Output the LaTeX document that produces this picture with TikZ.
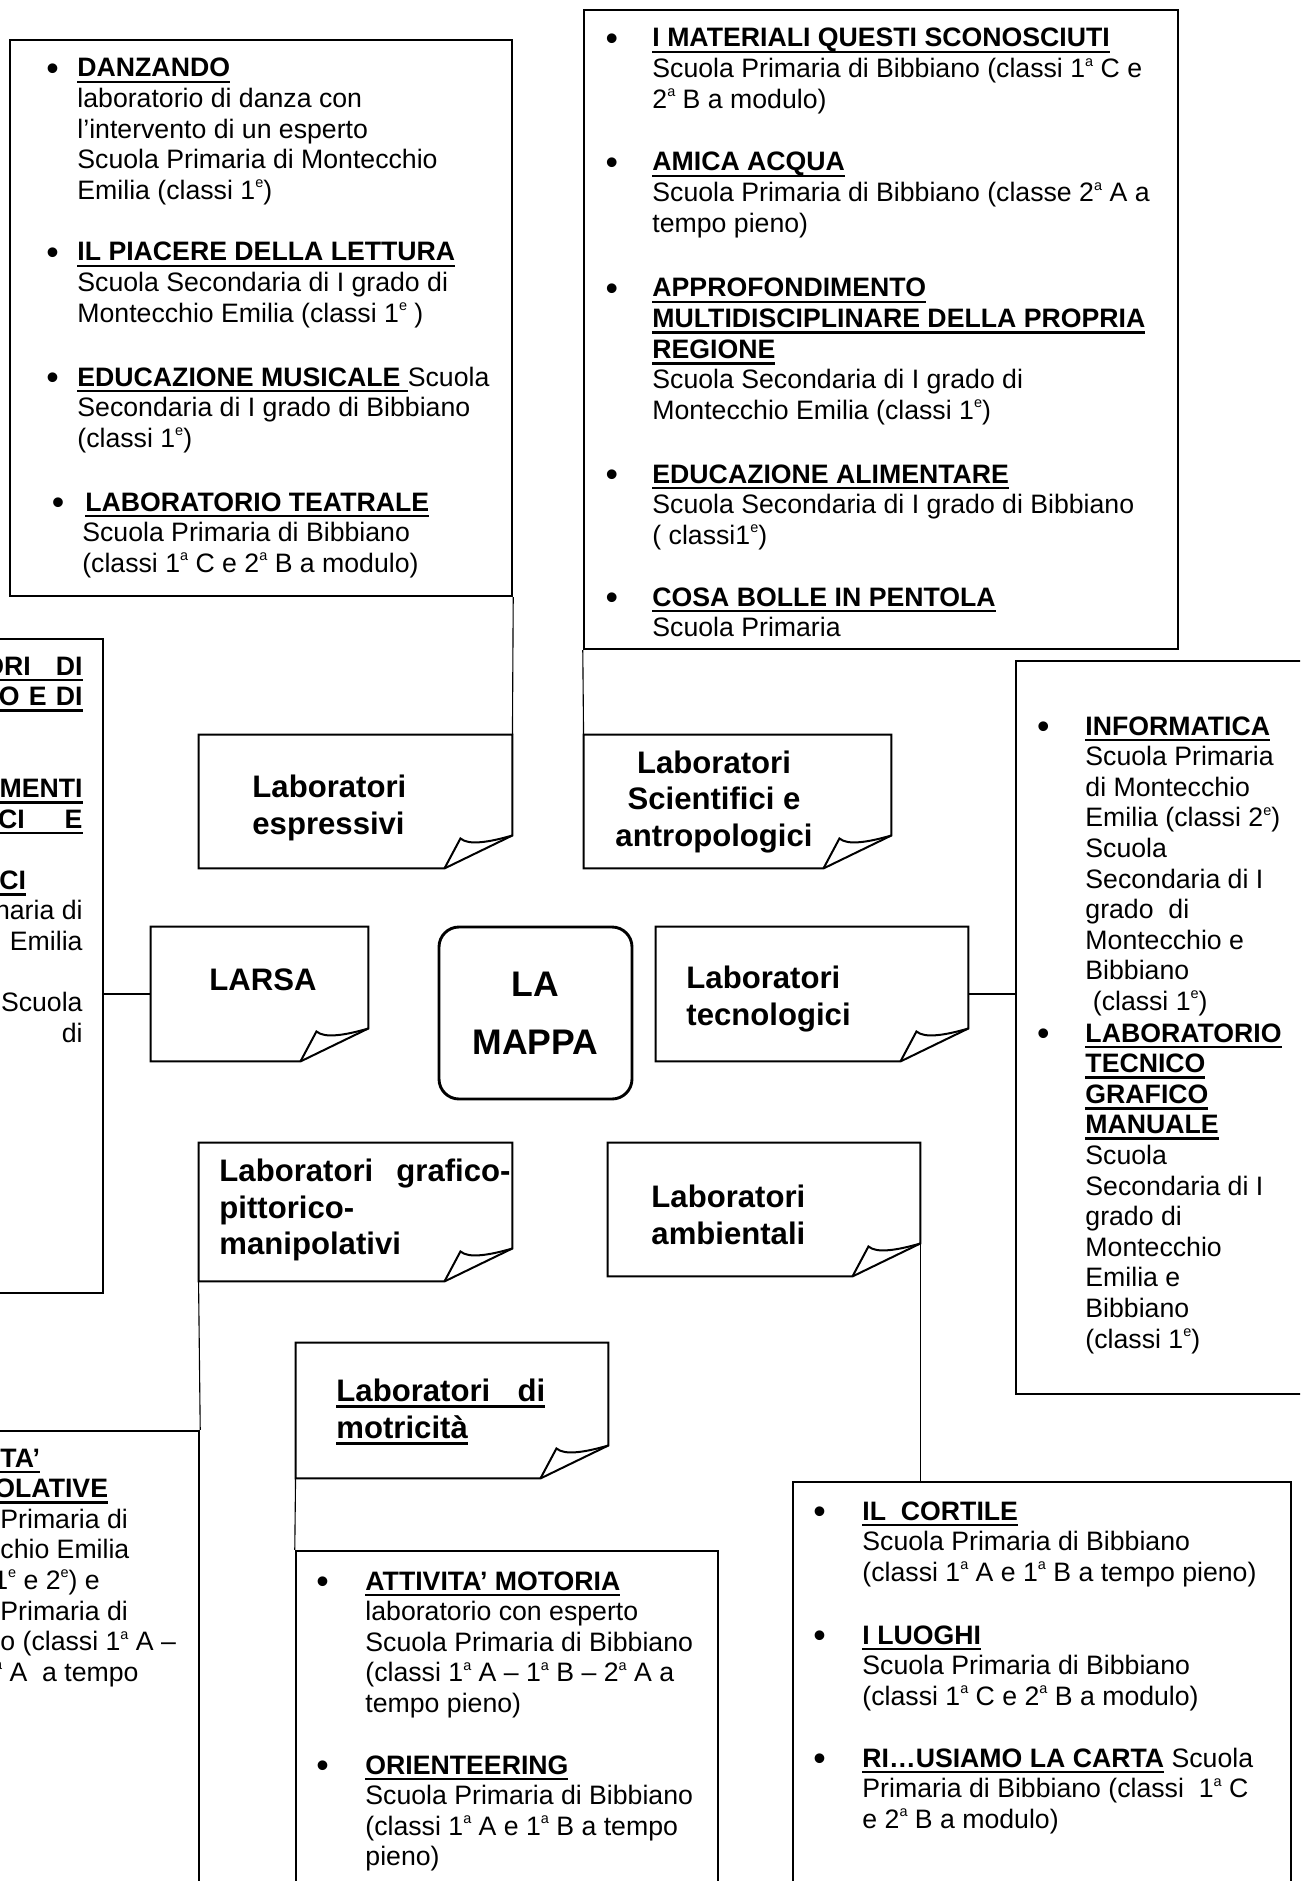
\documentclass[tikz,border=0pt]{standalone}
\usepackage{fontspec}
\setmainfont{Liberation Sans}
\usetikzlibrary{fit}

\newsavebox\SCATOLA
\newcommand\tit[1]{\textbf{\sbox\SCATOLA{#1}\rlap{\rule[-2.9pt]{\wd\SCATOLA}{1.3pt}}\usebox\SCATOLA}}
\newcommand\righe[2][l]{\begin{tabular}[t]{@{}#1@{}}#2\end{tabular}}
\newcommand\pallino[1]{\llap{\raisebox{-1.4pt}{\fontsize{16}{16}\selectfont\textbullet}\hspace{#1}}}
\newcommand\apice[1]{\raisebox{5.2pt}{\fontsize{6.5}{6.5}\selectfont #1}}
\newcommand\ap{\apice{a}}
\newcommand\ep{\apice{e}}

\tikzset{
  riquadro/.style={draw, line width=1.1pt, inner sep=0pt},
  foglio/.style={line width=0.9pt, line join=miter},
  filo/.style={line width=0.5pt},
  voce/.style={anchor=base west, inner sep=0pt, font=\fontsize{12}{13.77}\selectfont},
  etichetta/.style={inner sep=0pt, font=\fontsize{14}{16.5}\selectfont\bfseries}
}

\begin{document}
\begin{tikzpicture}[x=0.45pt, y=-0.45pt]

  \newcommand\PX{68};
  \newcommand\PY{33};
  \newcommand\piega[1]{
    \draw[foglio] (#1.north west) -- (#1.north east) -- ([shift={(0,-\PY)}]#1.south east)
    -- ([shift={(-\PX,0)}]#1.south east) -- (#1.south west) -- cycle;
    \draw[foglio] ([shift={(-\PX,0)}]#1.south east) -- ([shift={(-\PX+16,-30)}]#1.south east)
    .. controls ([shift={(-\PX+24,-23)}]#1.south east) and ([shift={(-24,-26)}]#1.south east)
    .. ([shift={(0,-\PY)}]#1.south east);
  };

  \useasboundingbox (0,0) rectangle (1300,1881);
  \clip (0,0) rectangle (1300,1881);

  % riquadri degli elenchi
  \node[riquadro, fit={(10,40) (512,596)}] (boxEspr) {};
  \node[riquadro, fit={(584,10) (1178,649)}] (boxScien) {};
  \node[riquadro, fit={(-10,639) (103,1293)}] (boxLarsa) {};
  \node[riquadro, fit={(1016,661) (1310,1394)}] (boxTecn) {};
  \node[riquadro, fit={(-10,1431) (199,1900)}] (boxGraf) {};
  \node[riquadro, fit={(296,1551) (718,1900)}] (boxMotr) {};
  \node[riquadro, fit={(793,1482) (1291,1900)}] (boxAmb) {};

  % foglietti
  \node[fit={(199,735) (512,868)}, inner sep=0pt] (espr) {};
  \node[fit={(584,735) (891,868)}, inner sep=0pt] (scien) {};
  \node[fit={(151,927) (368,1061)}, inner sep=0pt] (larsa) {};
  \node[fit={(656,927) (968,1061)}, inner sep=0pt] (tecn) {};
  \node[fit={(199,1143) (512,1281)}, inner sep=0pt] (graf) {};
  \node[fit={(608,1143) (920,1276)}, inner sep=0pt] (amb) {};
  \node[fit={(296,1343) (608,1478)}, inner sep=0pt] (motr) {};
  \piega{espr}
  \piega{scien}
  \piega{larsa}
  \piega{tecn}
  \piega{graf}
  \piega{amb}
  \piega{motr}

  \node[draw, rounded corners=9pt, line width=1.3pt, inner sep=0pt,
    fit={(439,927) (632,1099)}] (mappa) {};

  \node[etichetta, align=left, anchor=west] (tEspr) at (252,808) {Laboratori\\espressivi};
  \node[etichetta, align=center] (tScien) at (714,802) {Laboratori\\Scientifici e\\antropologici};
  \node[etichetta, anchor=west] (tLarsa) at (209,980) {LARSA};
  \node[etichetta, align=center, font=\fontsize{16}{26}\selectfont\bfseries]
    (tMappa) at (mappa.center) {LA\\MAPPA};
  \node[etichetta, align=left, anchor=west] (tTecn) at (686,999) {Laboratori\\tecnologici};
  \node[etichetta, align=left, anchor=west] (tGraf) at (219,1210)
    {\makebox[131pt][s]{Laboratori grafico-}\\pittorico-\\manipolativi};
  \node[etichetta, align=left, anchor=west] (tAmb) at (651,1215) {Laboratori\\ambientali};
  \node[etichetta, align=left, anchor=west] (tMotr) at (336,1412)
    {\tit{\makebox[94pt][s]{Laboratori di}}\\\tit{motricità}};

  % collegamenti
  \draw[filo] (boxEspr.south east) -- (espr.north east);
  \draw[filo] (boxScien.south west) -- (scien.north west);
  \draw[filo] (larsa.west) -- (larsa.west -| boxLarsa.east);
  \draw[filo] (tecn.east) -- (tecn.east -| boxTecn.west);
  \draw[filo] ([shift={(0,-\PY)}]amb.south east) -- (amb.east |- boxAmb.north);
  \draw[filo] (graf.south west) -- (boxGraf.north east);
  \draw[filo] (motr.south west) -- (boxMotr.north west);

  % espressivi
  \node[voce] (vDanz) at (77,77) {\righe{\pallino{8.4pt}\tit{DANZANDO}\\
    laboratorio di danza con\\ l’intervento di un esperto\\
    Scuola Primaria di Montecchio\\ Emilia (classi 1\ep)}};
  \node[voce] (vLett) at (77,261) {\righe{\pallino{8.4pt}\tit{IL PIACERE DELLA LETTURA}\\
    Scuola Secondaria di I grado di\\ Montecchio Emilia (classi 1\ep{} )}};
  \node[voce] (vMus) at (77,386) {\righe{\pallino{8.4pt}\tit{EDUCAZIONE MUSICALE\ }Scuola\\
    Secondaria di I grado di Bibbiano\\ (classi 1\ep)}};
  \node[voce] (vTeat) at (85,511) {\righe{\pallino{9.5pt}\tit{LABORATORIO TEATRALE}\\
    \hspace*{-1.4pt}Scuola Primaria di Bibbiano\\
    \hspace*{-1.4pt}(classi 1\ap{} C e 2\ap{} B a modulo)}};

  % scientifici e antropologici
  \node[voce] (vMat) at (652,47) {\righe{\pallino{15.5pt}\tit{I MATERIALI QUESTI SCONOSCIUTI}\\
    Scuola Primaria di Bibbiano (classi 1\ap{} C e\\ 2\ap{} B a modulo)}};
  \node[voce] (vAcq) at (652,171) {\righe{\pallino{15.5pt}\tit{AMICA ACQUA}\\
    Scuola Primaria di Bibbiano (classe 2\ap{} A a\\ tempo pieno)}};
  \node[voce] (vReg) at (652,297) {\righe{\pallino{15.5pt}\tit{APPROFONDIMENTO}\\
    \tit{MULTIDISCIPLINARE DELLA PROPRIA}\\ \tit{REGIONE}\\
    Scuola Secondaria di I grado di\\ Montecchio Emilia (classi 1\ep)}};
  \node[voce] (vAlim) at (652,483) {\righe{\pallino{15.5pt}\tit{EDUCAZIONE ALIMENTARE}\\
    Scuola Secondaria di I grado di Bibbiano\\ ( classi1\ep)}};
  \node[voce] (vBolle) at (652,606) {\righe{\pallino{15.5pt}\tit{COSA BOLLE IN PENTOLA}\\
    Scuola Primaria}};

  % LARSA
  \node[voce, anchor=base east] (fLarsa) at (83,675) {\righe[r]{
    \tit{\makebox[44.6pt][s]{ORI DI}}\\ \tit{\makebox[37.7pt][s]{O E DI}}\\ \\ \\
    \tit{MENTI}\\ \tit{\makebox[38pt][s]{CI E}}\\ \\
    \makebox[37.4pt][l]{\tit{CI}}\\ naria di\\ Emilia\\ \\ Scuola\\ di}};

  % tecnologici
  \node[voce] (vInfo) at (1085,735) {\righe{\pallino{16.1pt}\tit{INFORMATICA}\\
    Scuola Primaria\\ di Montecchio\\ Emilia (classi 2\ep)\\ Scuola\\
    Secondaria di I\\ grado\ \ di\\ Montecchio e\\ Bibbiano\\ \ (classi 1\ep)}};
  \node[voce] (vTecn) at (1085,1042) {\righe{\pallino{16.1pt}\tit{LABORATORIO}\\
    \tit{TECNICO}\\ \tit{GRAFICO}\\ \tit{MANUALE}\\ Scuola\\ Secondaria di I\\
    grado di\\ Montecchio\\ Emilia e\\ Bibbiano\\ (classi 1\ep)}};

  % grafico-pittorico-manipolativi
  \node[voce] (fGraf) at (0,1467) {\righe{
    \tit{TA’}\\ \hspace*{-2.7pt}\tit{OLATIVE}\\ Primaria di\\ chio Emilia\\
    \hspace*{-3.2pt}1\ep{} e 2\ep) e\\ Primaria di\\ o (classi 1\ap{} A –\\
    \hspace*{-9.5pt}2\ap{} A\ \ a tempo}};

  % motricita'
  \node[voce] (vMoto) at (365,1590) {\righe{\pallino{16.5pt}\tit{ATTIVITA’ MOTORIA}\\
    laboratorio con esperto\\ Scuola Primaria di Bibbiano\\
    (classi 1\ap{} A – 1\ap{} B – 2\ap{} A a\\ tempo pieno)}};
  \node[voce] (vOrie) at (365,1774) {\righe{\pallino{16.5pt}\tit{ORIENTEERING}\\
    Scuola Primaria di Bibbiano\\ (classi 1\ap{} A e 1\ap{} B a tempo\\ pieno)}};

  % ambientali
  \node[voce] (vCort) at (862,1520) {\righe{\pallino{16.5pt}\tit{IL\ \ CORTILE}\\
    Scuola Primaria di Bibbiano\\ (classi 1\ap{} A e 1\ap{} B a tempo pieno)}};
  \node[voce] (vLuog) at (862,1644) {\righe{\pallino{16.5pt}\tit{I LUOGHI}\\
    Scuola Primaria di Bibbiano\\ (classi 1\ap{} C e 2\ap{} B a modulo)}};
  \node[voce] (vCarta) at (862,1767) {\righe{\pallino{16.5pt}\tit{RI…USIAMO LA CARTA} Scuola\\
    Primaria di Bibbiano (classi\ \ 1\ap{} C\\ e 2\ap{} B a modulo)}};

\end{tikzpicture}
\end{document}
